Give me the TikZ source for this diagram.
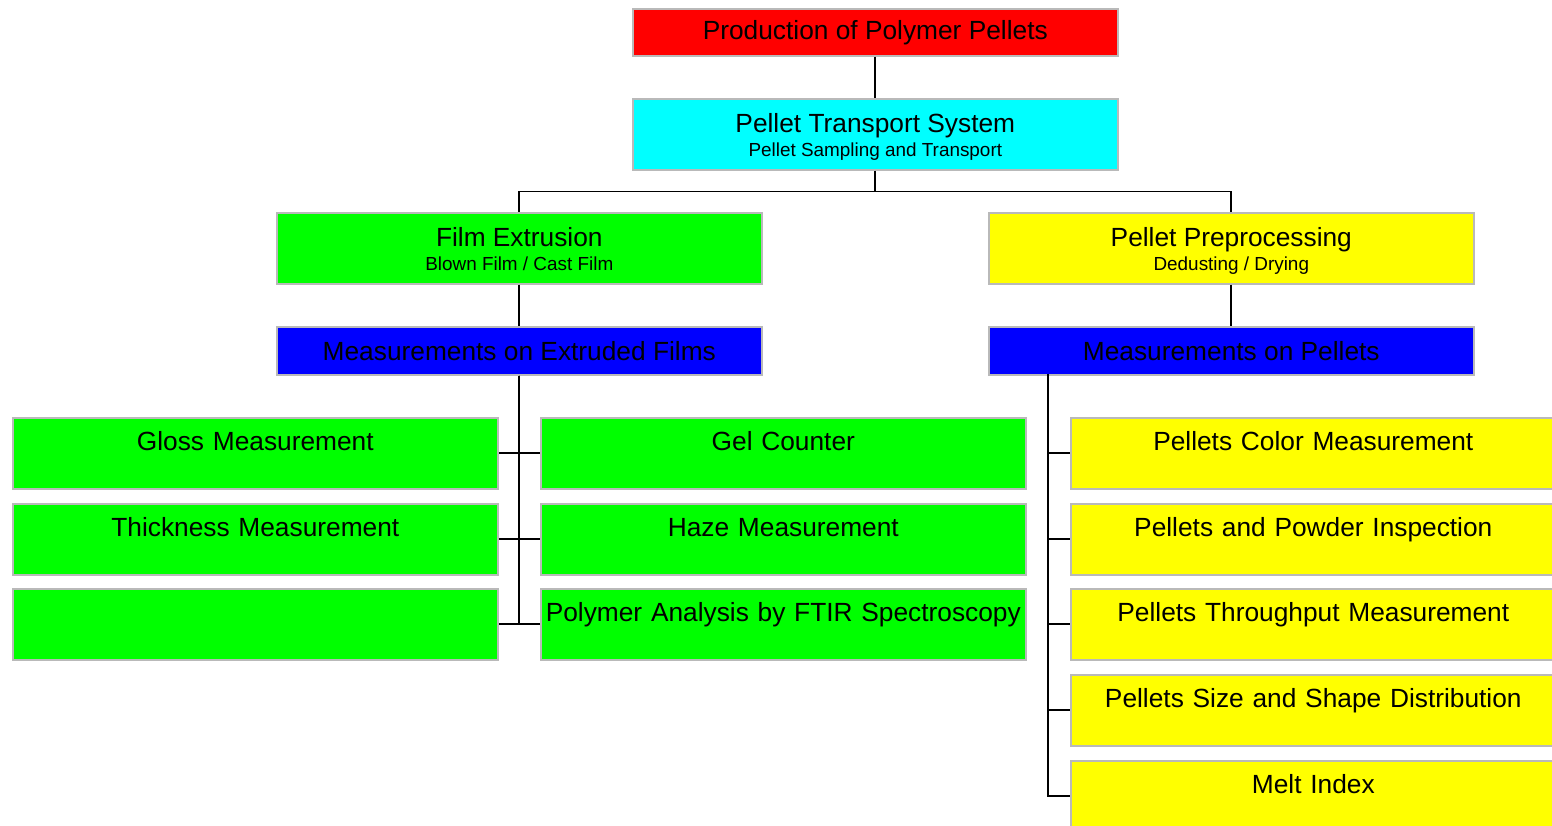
\documentclass[tikz,border=0pt]{standalone}
\usepackage{fontspec}
\setmainfont{Liberation Sans}
\definecolor{bordergray}{RGB}{185,185,185}
\definecolor{cred}{RGB}{255,0,0}
\definecolor{ccyan}{RGB}{0,255,255}
\definecolor{cgreen}{RGB}{0,255,0}
\definecolor{cyellow}{RGB}{255,255,0}
\definecolor{cblue}{RGB}{0,0,255}
\tikzset{
  box/.style={draw=bordergray, line width=1.6pt, rectangle, anchor=north west, inner sep=0pt,
    minimum width=485pt, align=center, font=\fontsize{26.3}{24}\selectfont},
  hdr/.style={box, minimum height=71pt},
  bar/.style={box, minimum height=48pt},
  leaf/.style={box, minimum height=71pt, text width=485pt, text height=33pt, text depth=38pt},
  conn/.style={draw=black, line width=1.8pt}
}
\newcommand{\maint}[1]{\rule{0pt}{23.4pt}#1\vphantom{Pg/}}
\newcommand{\subt}[1]{{\fontsize{18.9}{24}\selectfont #1\vphantom{Pg/}}}
\begin{document}
\begin{tikzpicture}[x=1pt,y=-1pt]
\useasboundingbox (0,0) rectangle (1552,826);
\clip (0,0) rectangle (1552,826);
% top
\node[box, fill=cred, minimum height=47pt] (top) at (632,8) {Production of Polymer Pellets};
\node[hdr, fill=ccyan] (pts) at (632,98) {\maint{Pellet Transport System}\\[0pt]\subt{Pellet Sampling and Transport}};
\node[hdr, fill=cgreen] (film) at (276,212) {\maint{Film Extrusion}\\[0pt]\subt{Blown Film / Cast Film}};
\node[hdr, fill=cyellow] (prep) at (988,212) {\maint{Pellet Preprocessing}\\[0pt]\subt{Dedusting / Drying}};
\node[bar, fill=cblue] (mfilm) at (276,326) {Measurements on Extruded Films};
\node[bar, fill=cblue] (mpel) at (988,326) {Measurements on Pellets};
% left green leaves
\node[leaf, fill=cgreen] (gloss) at (12,417) {Gloss Measurement};
\node[leaf, fill=cgreen] (thick) at (12,503) {Thickness Measurement};
\node[leaf, fill=cgreen] (empty) at (12,588) {};
\node[leaf, fill=cgreen] (gel) at (540,417) {Gel Counter};
\node[leaf, fill=cgreen] (haze) at (540,503) {Haze Measurement};
\node[leaf, fill=cgreen] (ftir) at (540,588) {Polymer Analysis by FTIR Spectroscopy};
% right yellow leaves
\node[leaf, fill=cyellow] (color) at (1070,417) {Pellets Color Measurement};
\node[leaf, fill=cyellow] (powder) at (1070,503) {Pellets and Powder Inspection};
\node[leaf, fill=cyellow] (through) at (1070,588) {Pellets Throughput Measurement};
\node[leaf, fill=cyellow] (size) at (1070,674) {Pellets Size and Shape Distribution};
\node[leaf, fill=cyellow] (melt) at (1070,760) {Melt Index};
% connectors
\draw[conn] (top.south) -- (pts.north);
\coordinate (bus) at ([yshift=-21pt]pts.south);
\draw[conn] (pts.south) -- (bus) -| (film.north);
\draw[conn] (bus) -| (prep.north);
\draw[conn] (film.south) -- (mfilm.north);
\draw[conn] (prep.south) -- (mpel.north);
\draw[conn] (mfilm.south) |- (gloss.east);
\draw[conn] (mfilm.south) |- (thick.east);
\draw[conn] (mfilm.south) |- (empty.east);
\draw[conn] (mfilm.south) |- (gel.west);
\draw[conn] (mfilm.south) |- (haze.west);
\draw[conn] (mfilm.south) |- (ftir.west);
\coordinate (rv) at (1048,374);
\draw[conn] (rv) |- (color.west);
\draw[conn] (rv) |- (powder.west);
\draw[conn] (rv) |- (through.west);
\draw[conn] (rv) |- (size.west);
\draw[conn] (rv) |- (melt.west);
\end{tikzpicture}
\end{document}
